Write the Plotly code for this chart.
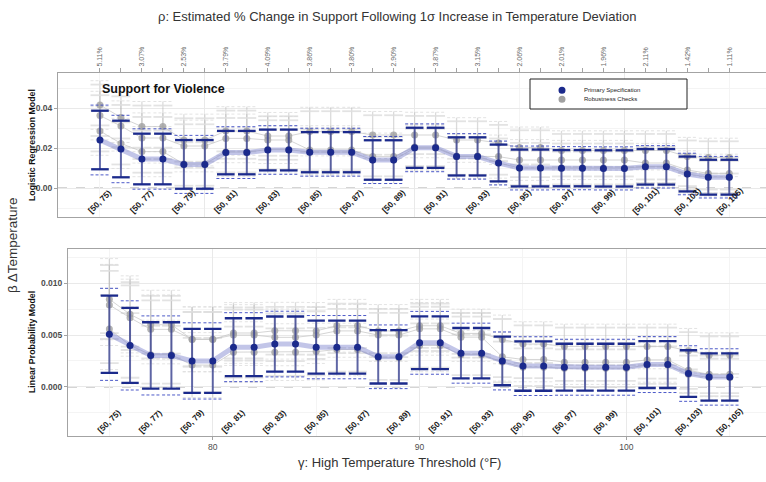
import plotly.graph_objects as go

# ---- data -----------------------------------------------------------------
gamma = [75, 76, 77, 78, 79, 80, 81, 82, 83, 84, 85, 86, 87, 88, 89, 90,
         91, 92, 93, 94, 95, 96, 97, 98, 99, 100, 101, 102, 103, 104, 105]

bin_edges = [75, 77, 79, 81, 83, 85, 87, 89, 91, 93, 95, 97, 99, 101, 103, 105]
bin_labels = ["[50, 75)", "[50, 77)", "[50, 79)", "[50, 81)", "[50, 83)",
              "[50, 85)", "[50, 87)", "[50, 89)", "[50, 91)", "[50, 93)",
              "[50, 95)", "[50, 97)", "[50, 99)", "[50, 101)", "[50, 103)",
              "[50, 105)"]
rho_labels = ["5.11%", "3.07%", "2.53%", "3.79%", "4.09%", "3.86%", "3.80%",
              "2.90%", "3.87%", "3.15%", "2.06%", "2.01%", "1.96%", "2.11%",
              "1.42%", "1.11%"]

# Logistic regression model: primary estimate and standard error
logit_est = [0.0240, 0.0195, 0.0145, 0.0145, 0.0118, 0.0118, 0.0177, 0.0177,
             0.0190, 0.0190, 0.0179, 0.0179, 0.0179, 0.0140, 0.0140, 0.0201,
             0.0201, 0.0158, 0.0158, 0.0125, 0.0100, 0.0100, 0.0099, 0.0099,
             0.0098, 0.0098, 0.0106, 0.0106, 0.0070, 0.0054, 0.0054]
logit_se = [0.0089, 0.0086, 0.0077, 0.0077, 0.0074, 0.0074, 0.0066, 0.0066,
            0.0062, 0.0062, 0.0061, 0.0061, 0.0061, 0.0060, 0.0060, 0.0061,
            0.0061, 0.0058, 0.0058, 0.0056, 0.0056, 0.0056, 0.0055, 0.0055,
            0.0055, 0.0055, 0.0054, 0.0054, 0.0053, 0.0053, 0.0053]
# Logistic regression model: robustness specifications
logit_rob_a = [0.0415, 0.0353, 0.0307, 0.0307, 0.0240, 0.0240, 0.0285, 0.0285,
               0.0260, 0.0260, 0.0282, 0.0282, 0.0282, 0.0265, 0.0265, 0.0265,
               0.0265, 0.0240, 0.0240, 0.0225, 0.0203, 0.0203, 0.0188, 0.0188,
               0.0188, 0.0188, 0.0188, 0.0188, 0.0157, 0.0153, 0.0153]
logit_rob_b = [0.0362, 0.0310, 0.0250, 0.0250, 0.0210, 0.0210, 0.0248, 0.0248,
               0.0240, 0.0240, 0.0190, 0.0190, 0.0190, 0.0157, 0.0157, 0.0205,
               0.0205, 0.0160, 0.0160, 0.0157, 0.0140, 0.0140, 0.0140, 0.0140,
               0.0140, 0.0140, 0.0125, 0.0125, 0.0090, 0.0073, 0.0073]
logit_rob_c = [0.0285, 0.0223, 0.0182, 0.0182, 0.0120, 0.0120, 0.0180, 0.0180,
               0.0192, 0.0192, 0.0180, 0.0180, 0.0180, 0.0140, 0.0140, 0.0200,
               0.0200, 0.0158, 0.0158, 0.0125, 0.0100, 0.0100, 0.0100, 0.0100,
               0.0100, 0.0100, 0.0107, 0.0107, 0.0070, 0.0055, 0.0055]
logit_rob_se = [0.0062, 0.0064, 0.0064, 0.0064, 0.0066, 0.0066, 0.0062, 0.0062,
                0.0060, 0.0060, 0.0062, 0.0062, 0.0062, 0.0060, 0.0060, 0.0058,
                0.0058, 0.0057, 0.0057, 0.0055, 0.0052, 0.0052, 0.0050, 0.0050,
                0.0050, 0.0050, 0.0050, 0.0050, 0.0049, 0.0049, 0.0049]

# Linear probability model: primary estimate and standard error
lpm_est = [0.00507, 0.00400, 0.00303, 0.00303, 0.00250, 0.00250, 0.00383,
           0.00383, 0.00413, 0.00413, 0.00383, 0.00383, 0.00383, 0.00290,
           0.00290, 0.00425, 0.00425, 0.00325, 0.00325, 0.00250, 0.00200,
           0.00200, 0.00189, 0.00189, 0.00189, 0.00189, 0.00215, 0.00215,
           0.00128, 0.00095, 0.00095]
lpm_se = [0.00227, 0.00220, 0.00195, 0.00195, 0.00188, 0.00188, 0.00170,
          0.00170, 0.00162, 0.00162, 0.00156, 0.00156, 0.00156, 0.00157,
          0.00157, 0.00155, 0.00155, 0.00148, 0.00148, 0.00143, 0.00145,
          0.00145, 0.00138, 0.00138, 0.00138, 0.00138, 0.00138, 0.00138,
          0.00137, 0.00139, 0.00139]
# Linear probability model: robustness specifications
lpm_rob_a = [0.00847, 0.00700, 0.00600, 0.00600, 0.00458, 0.00458, 0.00520,
             0.00520, 0.00542, 0.00542, 0.00540, 0.00590, 0.00590, 0.00540,
             0.00540, 0.00590, 0.00590, 0.00516, 0.00516, 0.00458, 0.00413,
             0.00413, 0.00390, 0.00390, 0.00390, 0.00390, 0.00390, 0.00390,
             0.00348, 0.00306, 0.00306]
lpm_rob_b = [0.00791, 0.00668, 0.00555, 0.00555, 0.00460, 0.00460, 0.00500,
             0.00500, 0.00478, 0.00478, 0.00500, 0.00540, 0.00540, 0.00500,
             0.00500, 0.00560, 0.00560, 0.00480, 0.00480, 0.00290, 0.00264,
             0.00264, 0.00238, 0.00238, 0.00238, 0.00238, 0.00260, 0.00260,
             0.00160, 0.00120, 0.00120]
lpm_rob_c = [0.00558, 0.00400, 0.00310, 0.00310, 0.00210, 0.00210, 0.00335,
             0.00335, 0.00335, 0.00335, 0.00340, 0.00360, 0.00360, 0.00280,
             0.00280, 0.00400, 0.00400, 0.00310, 0.00310, 0.00240, 0.00190,
             0.00190, 0.00180, 0.00180, 0.00180, 0.00180, 0.00210, 0.00210,
             0.00120, 0.00090, 0.00090]
lpm_rob_se = [0.00200, 0.00190, 0.00170, 0.00170, 0.00160, 0.00160, 0.00150,
              0.00150, 0.00140, 0.00140, 0.00140, 0.00130, 0.00130, 0.00130,
              0.00130, 0.00130, 0.00130, 0.00120, 0.00120, 0.00120, 0.00110,
              0.00110, 0.00110, 0.00110, 0.00110, 0.00110, 0.00110, 0.00110,
              0.00110, 0.00110, 0.00110]

# ---- styling --------------------------------------------------------------
FONT = "Liberation Sans, Arial, Helvetica, sans-serif"
W, H = 766, 482
Z90, Z95 = 1.645, 1.96
CAP = 0.42          # half-width of CI caps, in threshold units
NAVY = "#1b2a8c"
BORDER = "#a3a3a3"
GRID = "#e9e9e9"
GRID_MINOR = "#f4f4f4"


def px_x(p):
    return p / W


def px_y(p):
    return 1 - p / H


def bounds(est, se, z):
    lo = [e - z * s for e, s in zip(est, se)]
    hi = [e + z * s for e, s in zip(est, se)]
    return lo, hi


def vsegs(xs, lo, hi):
    X, Y = [], []
    for x, a, b in zip(xs, lo, hi):
        X += [x, x, None]
        Y += [a, b, None]
    return X, Y


def hsegs(xs, ys, half):
    X, Y = [], []
    for x, y in zip(xs, ys):
        X += [x - half, x + half, None]
        Y += [y, y, None]
    return X, Y


def seg_trace(X, Y, color, width, xa, ya, dash="solid"):
    return go.Scatter(x=X, y=Y, mode="lines", xaxis=xa, yaxis=ya,
                      line=dict(color=color, width=width, dash=dash),
                      hoverinfo="skip", showlegend=False)


def add_panel(fig, est, se, robs, rob_se, xa, ya):
    # robustness checks: intervals
    for r in robs:
        lo95, hi95 = bounds(r, rob_se, Z95)
        lo90, hi90 = bounds(r, rob_se, Z90)
        fig.add_trace(seg_trace(*vsegs(gamma, lo95, hi95),
                                "rgba(175,175,175,0.45)", 1.3, xa, ya))
        for yy in (lo90, hi90):
            fig.add_trace(seg_trace(*hsegs(gamma, yy, 0.45),
                                    "rgba(222,222,222,0.85)", 1.8, xa, ya))
        for yy in (lo95, hi95):
            fig.add_trace(seg_trace(*hsegs(gamma, yy, 0.45),
                                    "rgba(218,218,218,0.85)", 0.9, xa, ya,
                                    dash="3px,2px"))
    # robustness checks: estimates
    for r in robs:
        fig.add_trace(go.Scatter(
            x=gamma, y=r, mode="lines+markers", xaxis=xa, yaxis=ya,
            line=dict(color="rgba(195,195,195,0.7)", width=1),
            marker=dict(color="rgba(160,160,160,0.8)", size=7),
            hoverinfo="skip", showlegend=False))
    # primary specification
    fig.add_trace(go.Scatter(
        x=gamma, y=est, mode="lines", xaxis=xa, yaxis=ya,
        line=dict(color="rgba(120,126,205,0.45)", width=5),
        hoverinfo="skip", showlegend=False))
    lo90, hi90 = bounds(est, se, Z90)
    lo95, hi95 = bounds(est, se, Z95)
    fig.add_trace(seg_trace(*vsegs(gamma, lo90, hi90),
                            "rgba(40,50,140,0.7)", 2, xa, ya))
    for yy in (lo95, hi95):
        fig.add_trace(seg_trace(*hsegs(gamma, yy, 0.45),
                                "rgba(45,60,190,0.85)", 1, xa, ya,
                                dash="3px,2px"))
    for yy in (lo90, hi90):
        fig.add_trace(seg_trace(*hsegs(gamma, yy, CAP), NAVY, 2.3, xa, ya))
    fig.add_trace(go.Scatter(
        x=gamma, y=est, mode="markers", xaxis=xa, yaxis=ya,
        marker=dict(color=NAVY, size=7),
        hoverinfo="skip", showlegend=False))


fig = go.Figure()
add_panel(fig, logit_est, logit_se, [logit_rob_a, logit_rob_b, logit_rob_c],
          logit_rob_se, "x", "y")
add_panel(fig, lpm_est, lpm_se, [lpm_rob_a, lpm_rob_b, lpm_rob_c],
          lpm_rob_se, "x2", "y2")

# anchor trace for the secondary (top) axis with the rho labels
fig.add_trace(go.Scatter(x=[gamma[0]], y=[0], xaxis="x3", yaxis="y",
                         mode="markers", marker=dict(opacity=0),
                         hoverinfo="skip", showlegend=False))

x_range = [73, 106.75]
top_dom = [px_y(217), px_y(73)]
bot_dom = [px_y(435.5), px_y(249)]
rho_by_gamma = dict(zip(bin_edges, rho_labels))
top_ticktext = [rho_by_gamma.get(g, "") for g in gamma]

tick_font = dict(family=FONT, size=8.5, color="#4d4d4d")
ytick_font = dict(family=FONT, size=8.5, color="#4d4d4d", weight="bold")

common_x = dict(range=x_range, showgrid=True, gridcolor=GRID, gridwidth=1,
                zeroline=False, showline=True, linecolor=BORDER, linewidth=1,
                tickvals=[80, 90, 100],
                minor=dict(tickvals=[75, 85, 95, 105], showgrid=True,
                           gridcolor=GRID_MINOR, ticks=""))

fig.update_layout(
    width=W, height=H, autosize=False,
    margin=dict(l=0, r=0, t=0, b=0),
    paper_bgcolor="white", plot_bgcolor="white",
    font=dict(family=FONT),
    showlegend=False,
    xaxis=dict(domain=[px_x(58), 1], anchor="y", showticklabels=False,
               ticks="", **common_x),
    xaxis3=dict(overlaying="x", side="top", anchor="y", range=x_range,
                domain=[px_x(58), 1],
                tickmode="array", tickvals=gamma, ticktext=top_ticktext,
                tickangle=-90, ticks="outside", ticklen=4,
                tickcolor=BORDER, showline=True, linecolor=BORDER,
                showgrid=False, zeroline=False,
                tickfont=dict(family=FONT, size=7, color="#6b6b6b")),
    yaxis=dict(domain=top_dom, anchor="x", range=[-0.0145, 0.0575],
               tickvals=[0, 0.02, 0.04], ticktext=["0.00", "0.02", "0.04"],
               ticks="outside", ticklen=3, tickcolor=BORDER,
               showline=True, linecolor=BORDER, zeroline=False,
               showgrid=True, gridcolor=GRID, tickfont=ytick_font,
               minor=dict(tickvals=[-0.01, 0.01, 0.03, 0.05], showgrid=True,
                          gridcolor=GRID_MINOR, ticks="")),
    xaxis2=dict(domain=[px_x(68), 1], anchor="y2", mirror=True,
                ticks="outside", ticklen=3, tickcolor=BORDER,
                tickfont=tick_font, **common_x),
    yaxis2=dict(domain=bot_dom, anchor="x2", range=[-0.00471, 0.01332],
                tickvals=[0, 0.005, 0.010],
                ticktext=["0.000", "0.005", "0.010"],
                ticks="outside", ticklen=3, tickcolor=BORDER,
                showline=True, linecolor=BORDER, zeroline=False,
                showgrid=True, gridcolor=GRID, tickfont=ytick_font,
                minor=dict(tickvals=[-0.0025, 0.0025, 0.0075, 0.0125],
                           showgrid=True, gridcolor=GRID_MINOR, ticks="")),
)

# dashed reference lines at zero
for xr, yr in (("x domain", "y"), ("x2 domain", "y2")):
    fig.add_shape(type="line", xref=xr, yref=yr, x0=0, x1=1, y0=0, y1=0,
                  line=dict(color="#ababab", width=1.2, dash="dash"),
                  layer="below")

# threshold bin labels inside each panel
for g, lab in zip(bin_edges, bin_labels):
    for xr, yr, yv in (("x", "y", -0.0065), ("x2", "y2", -0.00335)):
        fig.add_annotation(x=g, y=yv, xref=xr, yref=yr, text=lab,
                           textangle=-45, showarrow=False,
                           xanchor="center", yanchor="middle",
                           font=dict(family=FONT, size=8.3, color="#1a1a1a",
                                     weight="bold"))


def paper_text(x, y, text, size, color="#333333", angle=0, weight="normal",
               xanchor="center"):
    fig.add_annotation(x=px_x(x), y=px_y(y), xref="paper", yref="paper",
                       text=text, textangle=angle, showarrow=False,
                       xanchor=xanchor, yanchor="middle",
                       font=dict(family=FONT, size=size, color=color,
                                 weight=weight))


# titles
paper_text(397, 17, "ρ: Estimated % Change in Support Following 1σ Increase "
           "in Temperature Deviation", 13)
paper_text(399, 462, "γ: High Temperature Threshold (°F)", 13)
paper_text(12, 245, "β ΔTemperature", 13.5, angle=-90)
paper_text(32, 145, "Logistic Regression Model", 8.8, color="#111111",
           angle=-90, weight="bold")
paper_text(32, 342, "Linear Probability Model", 8.8, color="#111111",
           angle=-90, weight="bold")
fig.add_annotation(
    x=75, y=0.0497, xref="x", yref="y", xanchor="left", yanchor="middle",
    showarrow=False, text="Support for Violence",
    font=dict(family=FONT, size=12.5, color="#111111", weight="bold"))

# legend box
fig.add_shape(type="rect", xref="paper", yref="paper",
              x0=px_x(530), x1=px_x(687), y0=px_y(109), y1=px_y(79),
              line=dict(color="#222222", width=1), fillcolor="white",
              layer="above")
for yy, col, lab in ((90.3, NAVY, "Primary Specification"),
                     (99.3, "#a0a0a0", "Robustness Checks")):
    fig.add_shape(type="circle", xref="paper", yref="paper",
                  xsizemode="pixel", ysizemode="pixel",
                  xanchor=px_x(562), yanchor=px_y(yy),
                  x0=-3.5, x1=3.5, y0=-3.5, y1=3.5,
                  fillcolor=col, line=dict(width=0), layer="above")
    paper_text(582, yy, lab, 6, color="#222222", xanchor="left")

fig.write_html("out.html", config={"displayModeBar": False})
